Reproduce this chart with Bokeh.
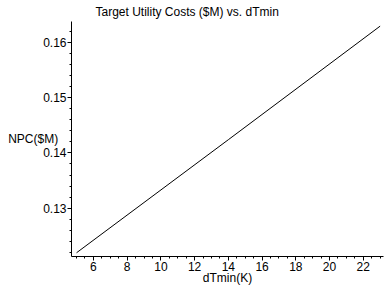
from bokeh.plotting import figure
from bokeh.models import Range1d, SingleIntervalTicker, PrintfTickFormatter, Title
from bokeh.embed import file_html
from bokeh.resources import INLINE

# data
dtmin = [5.0, 14.0, 23.0]
npc = [0.1219, 0.1424, 0.1630]

title_text = "Target Utility Costs ($M) vs. dTmin"
x_label = "dTmin(K)"
y_label = "NPC($M)"

FONT = "Liberation Sans"

p = figure(width=388, height=288, output_backend="svg", toolbar_location=None,
           x_range=Range1d(4.7, 23.2), y_range=Range1d(0.12122, 0.16384),
           min_border_left=71, min_border_right=5, min_border_top=0, min_border_bottom=32)
p.outline_line_color = None
p.xgrid.visible = False
p.ygrid.visible = False
p.background_fill_color = "white"
p.border_fill_color = "white"

p.line(dtmin, npc, line_color="black", line_width=1)

for ax in (p.xaxis[0], p.yaxis[0]):
    ax.axis_line_color = "black"
    ax.major_tick_line_color = "black"
    ax.minor_tick_line_color = "black"
    ax.major_tick_in = 0
    ax.minor_tick_in = 0
    ax.major_label_text_font = FONT
    ax.major_label_text_font_size = "12px"
    ax.major_label_text_color = "black"
    ax.axis_label_text_font = FONT
    ax.axis_label_text_font_size = "12px"
    ax.axis_label_text_font_style = "normal"
    ax.axis_label_text_color = "black"

xa = p.xaxis[0]
xa.ticker = SingleIntervalTicker(interval=2, num_minor_ticks=4)
xa.major_tick_out = 4
xa.minor_tick_out = 2
xa.major_label_standoff = 1
xa.axis_label = x_label
xa.axis_label_standoff = -3

ya = p.yaxis[0]
ya.ticker = SingleIntervalTicker(interval=0.01, num_minor_ticks=5)
ya.formatter = PrintfTickFormatter(format="%.2f")
ya.major_tick_out = 4
ya.minor_tick_out = 2
ya.major_label_standoff = 1
ya.axis_label = y_label
ya.axis_label_orientation = "horizontal"
ya.axis_label_standoff = -18

t = Title(text=title_text, align="left", offset=24, text_font=FONT,
          text_font_size="12px", text_font_style="normal", text_color="black",
          standoff=5)
p.add_layout(t, "above")

open("out.html", "w").write(file_html(p, INLINE))
